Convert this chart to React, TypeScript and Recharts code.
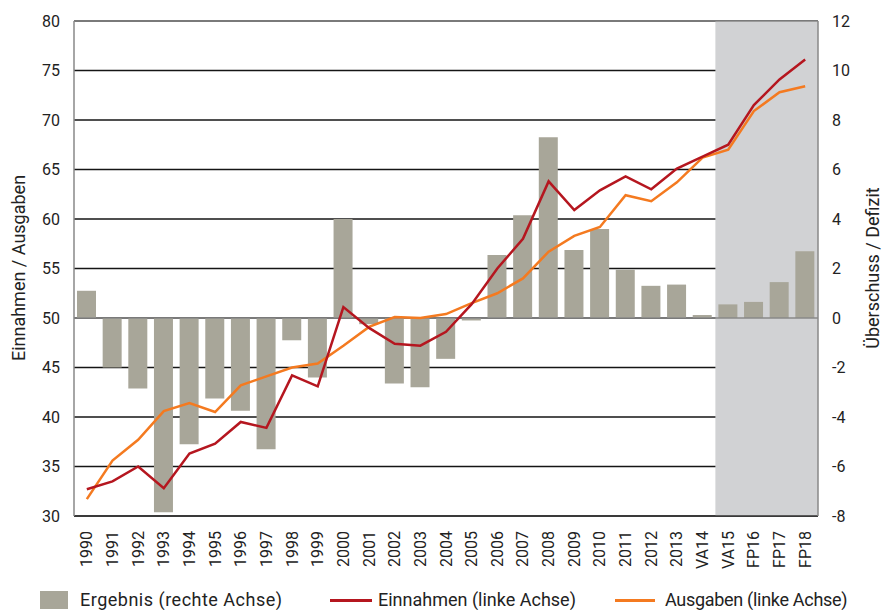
import React from 'react';
import { ComposedChart, Bar, Line, XAxis, YAxis, CartesianGrid, ReferenceArea, ReferenceLine } from 'recharts';

const categories = [
  '1990', '1991', '1992', '1993', '1994', '1995', '1996', '1997', '1998', '1999',
  '2000', '2001', '2002', '2003', '2004', '2005', '2006', '2007', '2008', '2009',
  '2010', '2011', '2012', '2013', 'VA14', 'VA15', 'FP16', 'FP17', 'FP18',
];

// Überschuss / Defizit (rechte Achse)
const ergebnis = [
  1.1, -2.0, -2.85, -7.85, -5.1, -3.25, -3.75, -5.3, -0.9, -2.4,
  4.0, -0.25, -2.65, -2.8, -1.65, -0.1, 2.55, 4.15, 7.3, 2.75,
  3.6, 1.95, 1.3, 1.35, 0.12, 0.55, 0.65, 1.45, 2.7,
];

// linke Achse
const einnahmen = [
  32.7, 33.5, 35.0, 32.8, 36.3, 37.3, 39.5, 38.9, 44.2, 43.1,
  51.1, 49.0, 47.4, 47.2, 48.6, 51.4, 55.0, 58.0, 63.8, 60.9,
  62.9, 64.3, 63.0, 65.1, 66.3, 67.5, 71.5, 74.1, 76.1,
];

const ausgaben = [
  31.7, 35.6, 37.7, 40.6, 41.4, 40.5, 43.2, 44.1, 45.0, 45.4,
  47.2, 49.1, 50.1, 50.0, 50.4, 51.5, 52.5, 54.0, 56.7, 58.3,
  59.2, 62.4, 61.8, 63.7, 66.2, 67.0, 70.9, 72.8, 73.4,
];

const leftTicks = [30, 35, 40, 45, 50, 55, 60, 65, 70, 75, 80];
const rightTicks = [-8, -6, -4, -2, 0, 2, 4, 6, 8, 10, 12];

const data = categories.map((c, i) => ({
  name: c,
  Ergebnis: ergebnis[i],
  Einnahmen: einnahmen[i],
  Ausgaben: ausgaben[i],
}));

const FONT = 'Roboto, "Noto Sans", sans-serif';
const TEXT = '#222';
const BAR = '#a8a699';
const RED = '#b5161f';
const ORANGE = '#f47a20';

const XTick = ({ x, y, payload }: any) => (
  <g transform={`translate(${x},${y + 7})`}>
    <text transform="rotate(-90)" textAnchor="end" dominantBaseline="central" fill={TEXT} fontSize={16} fontFamily={FONT}>
      {payload.value}
    </text>
  </g>
);

const legendText: React.CSSProperties = {
  position: 'absolute', top: 588, lineHeight: '24px', fontSize: 18, color: TEXT, whiteSpace: 'nowrap',
};

export default function App() {
  return (
    <div style={{ position: 'absolute', left: 0, top: 0, width: 882, height: 610, background: '#fff', overflow: 'hidden', fontFamily: FONT }}>
      <ComposedChart width={882} height={610} data={data} margin={{ top: 21, right: 14, left: 14, bottom: 34 }}>
        <ReferenceArea yAxisId="left" x1="VA15" x2="FP18" y1={30} y2={80} fill="#d1d2d4" fillOpacity={1} stroke="none" ifOverflow="visible" />
        <CartesianGrid yAxisId="left" vertical={false} stroke="#151515" strokeWidth={1.3} />
        <XAxis dataKey="name" interval={0} height={60} tick={<XTick />} tickLine={false} axisLine={{ stroke: '#333', strokeWidth: 1.5 }} />
        <YAxis yAxisId="left" domain={[30, 80]} ticks={leftTicks} width={60} tickLine={false} tickMargin={8}
          axisLine={{ stroke: '#888', strokeWidth: 1.5 }} tick={{ fill: TEXT, fontSize: 16, fontFamily: FONT }} />
        <YAxis yAxisId="right" orientation="right" domain={[-8, 12]} ticks={rightTicks} width={50} tickLine={false} tickMargin={8}
          axisLine={{ stroke: '#888', strokeWidth: 1.5 }} tick={{ fill: TEXT, fontSize: 16, fontFamily: FONT }} />
        <ReferenceLine yAxisId="left" y={80} stroke="#888" strokeWidth={1.5} />
        <ReferenceLine yAxisId="right" y={0} stroke="#888" strokeWidth={1.5} />
        <Bar yAxisId="right" dataKey="Ergebnis" fill={BAR} barSize={19} isAnimationActive={false} />
        <Line yAxisId="left" type="linear" dataKey="Ausgaben" stroke={ORANGE} strokeWidth={2.5} dot={false} isAnimationActive={false} />
        <Line yAxisId="left" type="linear" dataKey="Einnahmen" stroke={RED} strokeWidth={2.5} dot={false} isAnimationActive={false} />
      </ComposedChart>

      <div style={{ position: 'absolute', left: 18, top: 268, transform: 'translate(-50%, -50%) rotate(-90deg)', whiteSpace: 'nowrap', fontSize: 18, color: TEXT }}>
        Einnahmen / Ausgaben
      </div>
      <div style={{ position: 'absolute', left: 872, top: 268, transform: 'translate(-50%, -50%) rotate(-90deg)', whiteSpace: 'nowrap', fontSize: 18, color: TEXT }}>
        Überschuss / Defizit
      </div>

      <div style={{ position: 'absolute', left: 40, top: 591, width: 28, height: 18, background: BAR }} />
      <div style={{ ...legendText, left: 80, letterSpacing: 0.5 }}>Ergebnis (rechte Achse)</div>
      <div style={{ position: 'absolute', left: 330, top: 599, width: 42, height: 3, background: RED }} />
      <div style={{ ...legendText, left: 378 }}>Einnahmen (linke Achse)</div>
      <div style={{ position: 'absolute', left: 615, top: 599, width: 40, height: 3, background: ORANGE }} />
      <div style={{ ...legendText, left: 665, letterSpacing: -0.3 }}>Ausgaben (linke Achse)</div>
    </div>
  );
}
